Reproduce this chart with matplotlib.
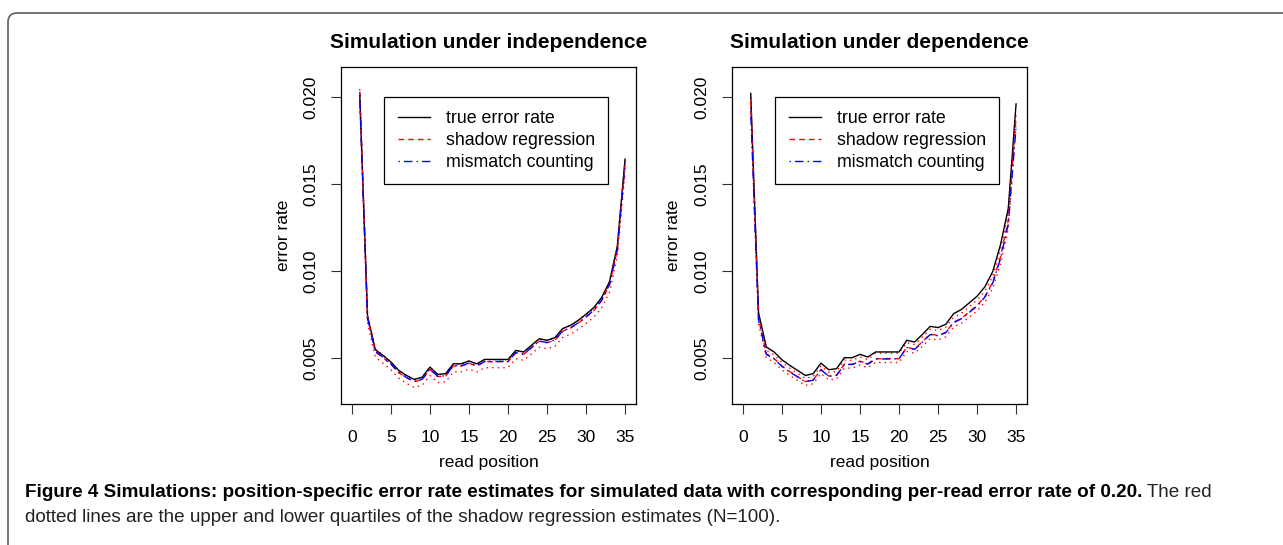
import matplotlib
matplotlib.use("Agg")
import matplotlib.pyplot as plt
from matplotlib.path import Path
from matplotlib.patches import PathPatch

# ---------------- data ----------------
positions = list(range(1, 36))

titles = ["Simulation under independence", "Simulation under dependence"]
legend_labels = ["true error rate", "shadow regression", "mismatch counting"]
x_ticks = [0, 5, 10, 15, 20, 25, 30, 35]
y_ticks = [0.005, 0.010, 0.015, 0.020]
y_tick_labels = ["0.005", "0.010", "0.015", "0.020"]

# independence panel
ind_true = [0.0202, 0.0074, 0.00548, 0.00515, 0.00477, 0.00429, 0.0040, 0.00377, 0.0039, 0.00448,
            0.00406, 0.0041, 0.00467, 0.00467, 0.00483, 0.00467, 0.00492, 0.00492, 0.00492, 0.00492,
            0.00544, 0.00535, 0.00573, 0.00611, 0.00602, 0.00617, 0.00669, 0.00688, 0.00717, 0.00752,
            0.0079, 0.00848, 0.00938, 0.0114, 0.01643]
ind_shadow = [0.0203, 0.0073, 0.00535, 0.00502, 0.00464, 0.00416, 0.00387, 0.00364, 0.00377, 0.00435,
              0.00393, 0.00397, 0.00454, 0.00454, 0.0047, 0.00454, 0.00479, 0.00479, 0.00479, 0.00479,
              0.0053, 0.00521, 0.00559, 0.00597, 0.00588, 0.00602, 0.00654, 0.00672, 0.00701, 0.00735,
              0.00773, 0.0083, 0.0092, 0.0112, 0.0161]
ind_mismatch = [0.0201, 0.0073, 0.00538, 0.00505, 0.00466, 0.00418, 0.00388, 0.00366, 0.00378, 0.00436,
                0.00395, 0.00398, 0.00456, 0.00455, 0.00471, 0.00456, 0.0048, 0.0048, 0.00481, 0.0048,
                0.00532, 0.00522, 0.0056, 0.00598, 0.00589, 0.00604, 0.00655, 0.00674, 0.00703, 0.00737,
                0.00775, 0.00832, 0.00922, 0.0112, 0.0162]
ind_upper = [0.02046, 0.0075, 0.00552, 0.00516, 0.00476, 0.00428, 0.00398, 0.00376, 0.00389, 0.00446,
             0.00404, 0.00409, 0.00466, 0.00466, 0.00483, 0.00466, 0.0049, 0.00491, 0.00491, 0.0049,
             0.00543, 0.00534, 0.00572, 0.0061, 0.006, 0.00615, 0.00667, 0.00686, 0.00715, 0.0075,
             0.00788, 0.00846, 0.00937, 0.0114, 0.0164]
ind_lower = [0.0198, 0.0070, 0.00505, 0.0047, 0.00432, 0.00384, 0.00354, 0.00331, 0.00343, 0.004,
             0.00359, 0.00363, 0.0042, 0.00421, 0.00436, 0.0042, 0.00444, 0.00445, 0.00444, 0.00445,
             0.00496, 0.00487, 0.00524, 0.00562, 0.00553, 0.00567, 0.00618, 0.00637, 0.00665, 0.00699,
             0.00735, 0.0079, 0.00878, 0.0108, 0.0157]

# dependence panel
dep_true = [0.0202, 0.00761, 0.00563, 0.00535, 0.0049, 0.00458, 0.00429, 0.0040, 0.0041, 0.00471,
            0.00433, 0.00439, 0.00502, 0.00502, 0.00521, 0.00506, 0.00535, 0.00535, 0.00535, 0.00535,
            0.00602, 0.00592, 0.00636, 0.00682, 0.00675, 0.00694, 0.00755, 0.00779, 0.00817, 0.00855,
            0.00909, 0.00996, 0.0115, 0.0136, 0.0196]
dep_shadow = [0.0198, 0.0073, 0.00524, 0.00497, 0.00454, 0.00422, 0.00393, 0.00365, 0.00374, 0.00434,
              0.00396, 0.00402, 0.00465, 0.00464, 0.00482, 0.00467, 0.00496, 0.00496, 0.00497, 0.00496,
              0.00562, 0.00551, 0.00594, 0.00637, 0.0063, 0.00648, 0.00706, 0.00728, 0.00765, 0.00802,
              0.00853, 0.00935, 0.0108, 0.0129, 0.0189]
dep_mismatch = [0.0192, 0.0072, 0.00521, 0.00495, 0.00452, 0.0042, 0.00392, 0.00364, 0.00373, 0.00433,
                0.00395, 0.004, 0.00463, 0.00463, 0.0048, 0.00465, 0.00494, 0.00495, 0.00495, 0.00496,
                0.0056, 0.0055, 0.00592, 0.00635, 0.00628, 0.00646, 0.00703, 0.00726, 0.00762, 0.00799,
                0.0085, 0.0093, 0.0107, 0.0127, 0.0183]
dep_upper = [0.0200, 0.0075, 0.00545, 0.00518, 0.00474, 0.00442, 0.00412, 0.00383, 0.00393, 0.00455,
             0.00418, 0.00423, 0.00488, 0.00487, 0.00506, 0.00491, 0.00528, 0.00528, 0.00529, 0.00528,
             0.00588, 0.00578, 0.00621, 0.00665, 0.00658, 0.00677, 0.00734, 0.00757, 0.00795, 0.00832,
             0.00884, 0.00968, 0.0112, 0.0133, 0.0192]
dep_lower = [0.0194, 0.0070, 0.00502, 0.00475, 0.00432, 0.004, 0.00371, 0.00343, 0.00352, 0.00412,
             0.00374, 0.0038, 0.00442, 0.00442, 0.00459, 0.00445, 0.00474, 0.00474, 0.00475, 0.00474,
             0.00538, 0.00528, 0.00568, 0.00611, 0.00604, 0.00622, 0.00678, 0.007, 0.00735, 0.00771,
             0.0082, 0.009, 0.0104, 0.0124, 0.0185]

caption_bold = ("Figure 4 Simulations: position-specific error rate estimates for simulated data "
                "with corresponding per-read error rate of 0.20.")
caption_rest1 = " The red"
caption_line2 = "dotted lines are the upper and lower quartiles of the shadow regression estimates (N=100)."

# ---------------- figure ----------------
W, H = 1283, 545
fig = plt.figure(figsize=(W / 100, H / 100), dpi=100)
plt.rcParams['font.family'] = ['Liberation Sans', 'DejaVu Sans']

# overlay in pixel coordinates
ov = fig.add_axes([0, 0, 1, 1])
ov.set_xlim(0, W)
ov.set_ylim(H, 0)
ov.axis('off')

# outer rounded frame (open to the right/bottom)
r = 9
verts = [(8, H + 20), (8, 13 + r), (8, 13), (8 + r, 13), (W + 20, 13)]
codes = [Path.MOVETO, Path.LINETO, Path.CURVE3, Path.CURVE3, Path.LINETO]
ov.add_patch(PathPatch(Path(verts, codes), fill=False, edgecolor='#6a6a6a', lw=1.3))

panels = [
    (341, (ind_true, ind_shadow, ind_mismatch, ind_upper, ind_lower)),
    (732, (dep_true, dep_shadow, dep_mismatch, dep_upper, dep_lower)),
]
ax_top, ax_bot = 67, 404
ax_w = 295

tick_fs = 12.5
for i, (left, series) in enumerate(panels):
    tr, sh, mm, up, lo = series
    ax = fig.add_axes([left / W, (H - ax_bot) / H, ax_w / W, (ax_bot - ax_top) / H])
    ax.plot(positions, up, color='red', lw=1.0, ls=(0, (1, 3)))
    ax.plot(positions, lo, color='red', lw=1.0, ls=(0, (1, 3)))
    l1, = ax.plot(positions, tr, color='black', lw=1.0, ls='-')
    l2, = ax.plot(positions, sh, color='red', lw=1.0, ls=(0, (4, 3)))
    l3, = ax.plot(positions, mm, color='blue', lw=1.0, ls=(0, (1, 3, 6, 3)))
    ax.set_xlim(-1.4, 36.4)
    ax.set_ylim(0.00236, 0.02172)
    ax.set_xticks(x_ticks)
    ax.set_xticklabels([str(t) for t in x_ticks], fontsize=tick_fs)
    ax.set_yticks(y_ticks)
    ax.set_yticklabels(y_tick_labels, fontsize=tick_fs, rotation=90, va='center')
    ax.tick_params(axis='both', direction='out', length=7.5, width=0.8, color='#333333')
    ax.tick_params(axis='x', pad=11)
    ax.tick_params(axis='y', pad=9)
    for s in ax.spines.values():
        s.set_linewidth(0.9)
    leg = ax.legend([l1, l2, l3], legend_labels, loc='upper left',
                    bbox_to_anchor=(0.147, 0.911), borderaxespad=0, fontsize=12.8,
                    frameon=True, fancybox=False, framealpha=1, edgecolor='black',
                    handlelength=1.8, handletextpad=0.9, labelspacing=0.28,
                    borderpad=0.74)
    leg.get_frame().set_linewidth(0.9)
    cx = left + ax_w / 2
    ov.text(cx, 48, titles[i], fontsize=15, fontweight='bold', ha='center', va='baseline')
    ov.text(cx, 462, "read position", fontsize=12.5, ha='center', va='center')
    ov.text(left - 58, (ax_top + ax_bot) / 2, "error rate", fontsize=12.5, ha='center',
            va='center', rotation=90)

# caption
cap_fs = 13.6
t1 = ov.text(25, 497, caption_bold, fontsize=cap_fs, fontweight='bold', ha='left',
             va='baseline')
fig.canvas.draw()
bb = t1.get_window_extent()
x_end = bb.x1
ov.text(x_end, 497, caption_rest1, fontsize=cap_fs, ha='left', va='baseline',
        color='#222222')
ov.text(25, 522, caption_line2, fontsize=cap_fs, ha='left', va='baseline',
        color='#222222')

fig.savefig("out.png", dpi=100)
